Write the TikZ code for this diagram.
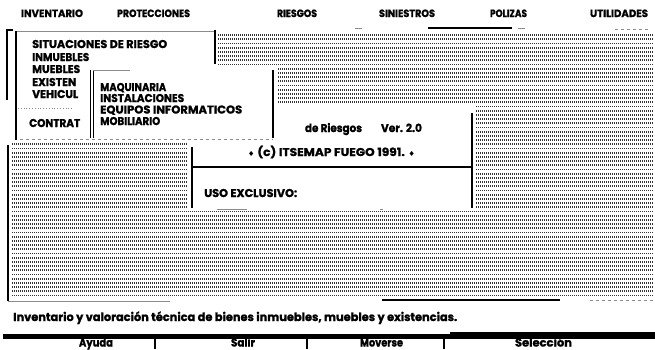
\documentclass[tikz,border=0pt]{standalone}
\usepackage{graphicx}
\usepackage{fontspec}
\setmainfont{Poppins}[BoldFeatures={FakeBold=1.2}]
\newfontfamily\symfont{DejaVu Sans}
% text squeezed or stretched to the width it has on the screen
\newcommand{\fitw}[2]{\resizebox{#1pt}{\height}{#2}}
\newcommand{\dia}{{\symfont\fontsize{7}{7}\selectfont ♦}}

\begin{document}
\begin{tikzpicture}[x=1pt,y=-1pt,
	menu/.style={font=\bfseries\fontsize{10.5}{10}\selectfont, anchor=base, inner sep=0pt},
	item/.style={font=\bfseries\fontsize{11.3}{11}\selectfont, anchor=base west, inner sep=0pt},
	key/.style={font=\bfseries\fontsize{11.3}{11}\selectfont, anchor=base, inner sep=0pt},
	edge/.style={line width=1.2pt},
	faint/.style={black!45, line width=0.8pt}]
\useasboundingbox (0,0) rectangle (655,349);
\fill[white] (0,0) rectangle (655,349);
% menu bar
\node[menu] (inventario) at (52,17) {\fitw{62}{INVENTARIO}};
\node[menu] (protecciones) at (153.5,17) {\fitw{73}{PROTECCIONES}};
\node[menu] (riesgos) at (297,17) {\fitw{40}{RIESGOS}};
\node[menu] (siniestros) at (407,17) {\fitw{56}{SINIESTROS}};
\node[menu] (polizas) at (508.5,17) {\fitw{37}{POLIZAS}};
\node[menu] (utilidades) at (619,17) {\fitw{58}{UTILIDADES}};
% dotted background
\foreach \y in {35,39.2,...,296}
	\draw[line width=1.8pt, dash pattern=on 0.6pt off 1.4pt, black!80] (12,\y) -- (653,\y);
\fill[white] (10,27) rectangle (218,142);
\fill[white] (88,65) rectangle (277,142);
\fill[white] (188,103) rectangle (475,211);
% outer frame
\draw[edge] (13,30) -- (7,30) -- (7,100);
\draw[edge] (8,145) -- (8,301);
\draw[faint] (8,301) -- (170,301);
\draw[line width=1.5pt] (382,300) -- (560,300);
\draw[faint, dashed] (590,300) -- (655,300);
\draw[line width=1.5pt] (428,28) -- (512,28);
\draw[faint] (355,28) -- (362,28) (518,28) -- (525,28);
\draw[faint, dashed] (615,29) -- (650,29);
% first menu
\draw[faint] (16,31) -- (215,31);
\draw[edge] (16,31) -- (16,140);
\draw[line width=1.6pt] (215,30) -- (215,64);
\draw[faint, dashed] (20,139) -- (273,139);
\draw[faint, dotted] (18,108) -- (72,108);
\node[item] (situaciones) at (32,48) {\fitw{135}{SITUACIONES DE RIESGO}};
\node[item] (inmuebles) at (32,61) {\fitw{57}{INMUEBLES}};
\node[item] (muebles) at (32,73) {\fitw{48}{MUEBLES}};
\node[item] (existen) at (32,86) {\fitw{44}{EXISTEN}};
\node[item] (vehicul) at (32,98) {\fitw{46}{VEHICUL}};
\node[item] (contrat) at (29,127) {\fitw{51}{CONTRAT}};
% submenu
\draw[line width=0.8pt] (90,70) -- (90,138) (93,70) -- (93,138);
\draw[faint] (93,70) -- (130,70);
\draw[edge] (273,70) -- (273,138);
\node[item] (maquinaria) at (100,91) {\fitw{66}{MAQUINARIA}};
\node[item] (instalaciones) at (100,102) {\fitw{84}{INSTALACIONES}};
\node[item] (equipos) at (100,113.5) {\fitw{142}{EQUIPOS INFORMATICOS}};
\node[item] (mobiliario) at (100,125) {\fitw{60}{MOBILIARIO}};
% dialog
\draw[edge] (192,147) -- (192,208);
\draw[line width=1.5pt] (472,113) -- (472,208);
\draw[edge] (192,167) -- (472,167);
\draw[faint] (217,209) -- (247,209) (380,209) -- (383,209);
\node[key] (riesgo) at (333.5,132) {\fitw{57}{de Riesgos}};
\node[key] (version) at (401.5,132) {\fitw{41}{Ver. 2.0}};
\node[key] (copyright) at (331.5,156) {\fitw{167}{\dia{} (c) ITSEMAP FUEGO 1991. \dia}};
\node[item] (uso) at (204,197) {\fitw{93}{USO EXCLUSIVO:}};
% status line
\node[item, font=\bfseries\fontsize{11.5}{12}\selectfont] (status) at (13,321) {\fitw{444}{Inventario y valoración técnica de bienes inmuebles, muebles y existencias.}};
% key bar
\fill (3,334) rectangle (655,339);
\fill (450,332) rectangle (655,334);
\foreach \x in {155,307,444}
	\draw[line width=2.6pt] (\x,336) -- (\x,349);
\node[key] (ayuda) at (96,346.5) {\fitw{34}{Ayuda}};
\node[key] (salir) at (243,346.5) {\fitw{24}{Salir}};
\node[key] (moverse) at (381.5,346.5) {\fitw{43}{Moverse}};
\node[key] (seleccion) at (543.5,346.5) {\fitw{57}{Selección}};
\end{tikzpicture}
\end{document}
